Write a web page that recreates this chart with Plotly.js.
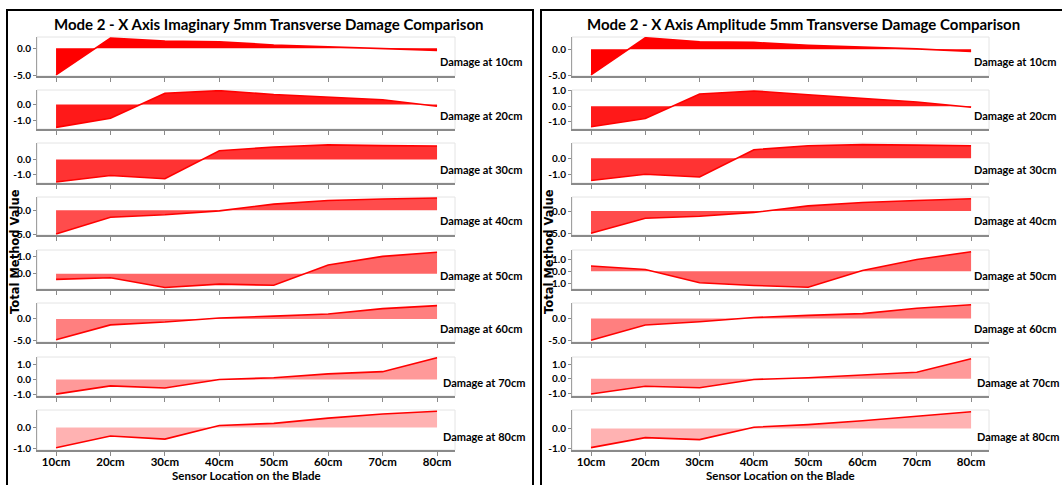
<!DOCTYPE html>
<html>
<head>
<meta charset="utf-8">
<script src="https://cdn.plot.ly/plotly-3.0.1.min.js"></script>
<style>html,body{margin:0;padding:0;background:#fff;}#chart{width:1062px;height:485px;}</style>
</head>
<body>
<div id="chart"></div>
<script>
// ---- data ----
const sensors = ['10cm','20cm','30cm','40cm','50cm','60cm','70cm','80cm'];
const damageLabels = ['Damage at 10cm','Damage at 20cm','Damage at 30cm','Damage at 40cm','Damage at 50cm','Damage at 60cm','Damage at 70cm','Damage at 80cm'];

const imag10 = [-4.90, 1.88, 1.30, 1.18, 0.60, 0.30, -0.10, -0.40];
const imag20 = [-1.40, -0.84, 0.70, 0.86, 0.62, 0.46, 0.30, -0.10];
const imag30 = [-1.53, -1.09, -1.31, 0.58, 0.84, 0.98, 0.93, 0.91];
const imag40 = [-5.00, -1.49, -0.95, -0.14, 1.28, 2.03, 2.36, 2.57];
const imag50 = [-0.33, -0.24, -0.80, -0.61, -0.67, 0.50, 1.00, 1.24];
const imag60 = [-4.86, -1.38, -0.72, 0.22, 0.65, 1.16, 2.39, 3.10];
const imag70 = [-1.00, -0.44, -0.58, 0.00, 0.11, 0.38, 0.53, 1.48];
const imag80 = [-0.97, -0.41, -0.56, 0.09, 0.19, 0.44, 0.64, 0.77];

const amp10 = [-4.93, 2.22, 1.46, 1.32, 0.76, 0.42, 0.07, -0.42];
const amp20 = [-1.33, -0.80, 0.78, 0.98, 0.73, 0.49, 0.27, -0.07];
const amp30 = [-1.37, -0.98, -1.15, 0.52, 0.76, 0.83, 0.80, 0.76];
const amp40 = [-4.85, -1.57, -1.12, -0.30, 1.12, 1.87, 2.31, 2.69];
const amp50 = [0.45, 0.15, -0.96, -1.19, -1.34, 0.06, 0.99, 1.64];
const amp60 = [-5.00, -1.48, -0.74, 0.25, 0.74, 1.15, 2.38, 3.20];
const amp70 = [-1.05, -0.52, -0.62, -0.05, 0.07, 0.26, 0.45, 1.38];
const amp80 = [-0.95, -0.45, -0.55, 0.07, 0.20, 0.39, 0.62, 0.84];

const imagTicks = [[0,-5],[0,-1],[0,-1],[0,-5],[1,0],[0,-5],[1,0,-1],[0,-1]];
const ampTicks  = [[0,-5],[1,0,-1],[0,-1],[0,-5],[1,0,-1],[0,-5],[1,0,-1],[0,-1]];

const leftTitle = 'Mode 2 - X Axis Imaginary 5mm Transverse Damage Comparison';
const rightTitle = 'Mode 2 - X Axis Amplitude 5mm Transverse Damage Comparison';
const yTitle = 'Total Method Value';
const xTitle = 'Sensor Location on the Blade';

// ---- layout helpers ----
const W = 1062, H = 485;
const FONT = 'Lato, DejaVu Sans, sans-serif';
const VFONT = 'DejaVu Sans, sans-serif';
const px = x => x / W;
const py = y => 1 - y / H;
const rowsPx = [[37,76],[90,129],[143,183],[197,235],[250,289],[303,342],[357,396],[410,450]];
const alphas = [1.0, 0.9, 0.8, 0.7, 0.6, 0.5, 0.4, 0.3];

const imagRanges = [[-5.1,2.06],[-1.5,0.9],[-1.6,1.11],[-5.2,2.77],[-0.89,1.37],[-5.36,3.7],[-1.13,1.53],[-1.08,0.83]];
const ampRanges  = [[-5.14,2.36],[-1.47,1.04],[-1.52,0.93],[-5.22,3.06],[-1.49,1.79],[-5.4,3.6],[-1.19,1.5],[-1.07,0.93]];

const panels = [
  {series:[imag10,imag20,imag30,imag40,imag50,imag60,imag70,imag80], ticks: imagTicks, ranges: imagRanges,
   xL:37, xR:455, title:leftTitle, titleX:269, yTitleX:15, labelX:438, xTitleX:246, offset:0},
  {series:[amp10,amp20,amp30,amp40,amp50,amp60,amp70,amp80], ticks: ampTicks, ranges: ampRanges,
   xL:572, xR:989, title:rightTitle, titleX:803, yTitleX:549, labelX:972, xTitleX:780, offset:8}
];

const traces = [];
const layout = {
  width: W, height: H,
  margin: {l:0, r:0, t:0, b:0},
  paper_bgcolor: '#fff', plot_bgcolor: '#fff',
  showlegend: false,
  font: {family: FONT, color: '#000'},
  shapes: [], annotations: []
};

panels.forEach(p => {
  p.series.forEach((vals, i) => {
    const n = p.offset + i + 1;
    const xa = 'x' + n, ya = 'y' + n;
    traces.push({
      type: 'scatter', mode: 'lines', x: sensors, y: vals,
      xaxis: xa, yaxis: ya, fill: 'tozeroy',
      fillcolor: `rgba(255,0,0,${alphas[i]})`,
      line: {color: '#ff0000', width: 1.6}, hoverinfo: 'skip'
    });
    const [top, bot] = rowsPx[i];
    layout['xaxis' + n] = {
      domain: [px(p.xL), px(p.xR)], anchor: ya, type: 'category',
      range: [-0.35, 7.33], showline: true, linecolor: '#8a8a8a', linewidth: 1.5,
      ticks: 'outside', ticklen: 4, tickcolor: '#8a8a8a', tickwidth: 1,
      ticklabelstandoff: -3,
      showticklabels: i === 7, tickfont: {family: FONT, size: 11.5, weight: 'bold', color: '#000'},
      showgrid: false, zeroline: false, fixedrange: true
    };
    const tv = p.ticks[i];
    layout['yaxis' + n] = {
      domain: [py(bot), py(top)], anchor: xa, range: p.ranges[i],
      tickvals: tv, ticktext: tv.map(v => v.toFixed(1)),
      showline: true, linecolor: '#a0a0a0', linewidth: 1,
      ticks: 'outside', ticklen: 3, tickcolor: '#8a8a8a',
      tickfont: {family: FONT, size: 10, weight: 'bold', color: '#000'},
      showgrid: false, zeroline: false, fixedrange: true
    };
    layout.shapes.push({type:'rect', xref: xa + ' domain', yref: ya + ' domain', x0:0, x1:1, y0:0, y1:1,
      line:{color:'#e4e4e4', width:1}, layer:'below'});
    layout.annotations.push({xref:'paper', yref:'paper', x: px(p.labelX + (i >= 6 ? 3 : 0)), y: py(bot - 14),
      xanchor:'left', yanchor:'middle', showarrow:false, text: damageLabels[i],
      font:{family: FONT, size: 11, weight:'bold', color:'#000'}});
  });
  layout.annotations.push({xref:'paper', yref:'paper', x: px(p.titleX), y: py(24), xanchor:'center', yanchor:'middle',
    showarrow:false, text: p.title, font:{family: FONT, size: 15, weight:'bold', color:'#000'}});
  layout.annotations.push({xref:'paper', yref:'paper', x: px(p.yTitleX), y: py(252), xanchor:'center', yanchor:'middle',
    showarrow:false, textangle:-90, text: yTitle, font:{family: VFONT, size: 11.5, weight:'bold', color:'#000'}});
  layout.annotations.push({xref:'paper', yref:'paper', x: px(p.xTitleX), y: py(475), xanchor:'center', yanchor:'middle',
    showarrow:false, text: xTitle, font:{family: FONT, size: 11.5, weight:'bold', color:'#000'}});
});

// panel frames
layout.shapes.push({type:'rect', xref:'paper', yref:'paper', x0: px(7), x1: px(533), y0: -0.05, y1: py(10),
  line:{color:'#000', width:2}});
layout.shapes.push({type:'rect', xref:'paper', yref:'paper', x0: px(541), x1: 1.05, y0: -0.05, y1: py(10),
  line:{color:'#000', width:2}});

Plotly.newPlot('chart', traces, layout, {displayModeBar: false, staticPlot: true});
</script>
</body>
</html>
